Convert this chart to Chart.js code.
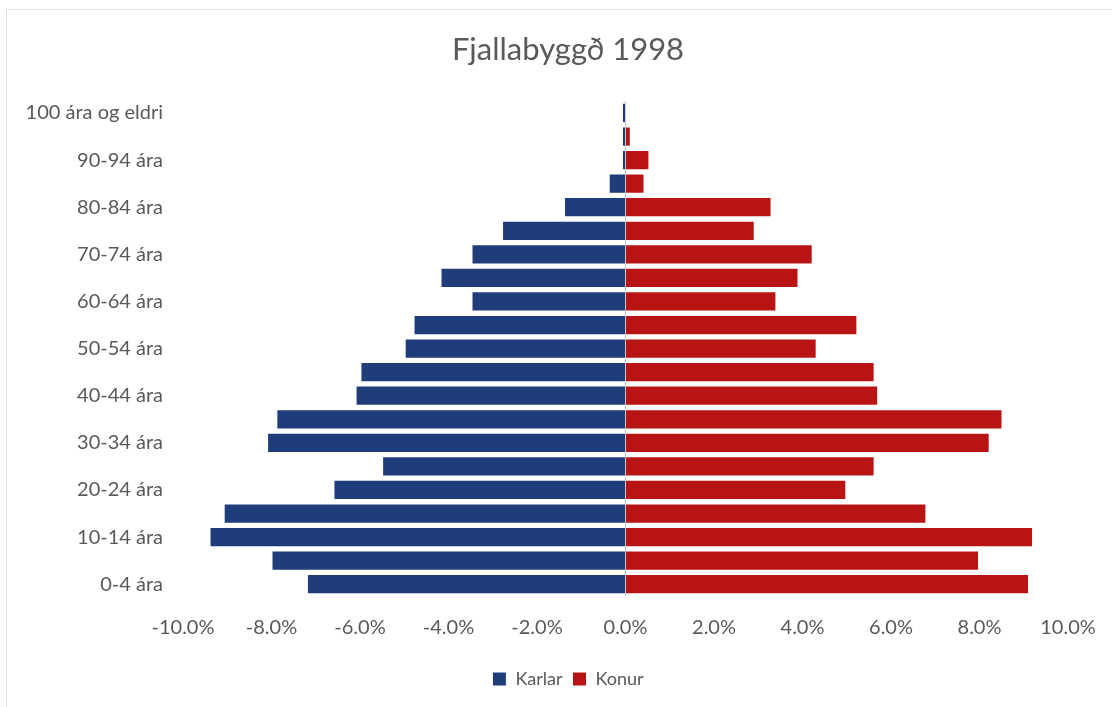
<!DOCTYPE html>
<html>
<head>
<meta charset="utf-8">
<script src="https://cdn.jsdelivr.net/npm/chart.js@4"></script>
<style>
    html, body { margin: 0; padding: 0; background: #fff; }
    #wrap { position: relative; width: 1112px; height: 707px; }
    #frame { position: absolute; left: 6px; top: 9px; width: 1120px; height: 720px; border: 1px solid #e2e2ea; }
    canvas { position: absolute; left: 0; top: 0; }
</style>
</head>
<body>
<div id="wrap">
    <div id="frame"></div>
    <canvas id="chartPyramid" width="1112" height="707"></canvas>
</div>
<script>
// aldurshopar, efst til nedst
const aldur = ['100 ára og eldri', '95-99 ára', '90-94 ára', '85-89 ára', '80-84 ára', '75-79 ára',
    '70-74 ára', '65-69 ára', '60-64 ára', '55-59 ára', '50-54 ára', '45-49 ára', '40-44 ára',
    '35-39 ára', '30-34 ára', '25-29 ára', '20-24 ára', '15-19 ára', '10-14 ára', '5-9 ára', '0-4 ára'];

// hlutfall (%) - karlar neikvaedir
const karlar = [-0.08, -0.08, -0.08, -0.38, -1.39, -2.79, -3.48, -4.18, -3.48, -4.79, -4.99,
    -5.99, -6.10, -7.89, -8.10, -5.50, -6.60, -9.08, -9.40, -8.00, -7.20];
const konur = [0, 0.12, 0.54, 0.43, 3.30, 2.92, 4.23, 3.91, 3.41, 5.24, 4.32,
    5.63, 5.71, 8.52, 8.23, 5.63, 4.99, 6.80, 9.21, 7.99, 9.12];

const xTicks = [-10, -8, -6, -4, -2, 0, 2, 4, 6, 8, 10];

const fontName = 'Lato, "Open Sans", sans-serif';
const grayText = '#595959';

var myChart;

// titill og skyring midjud eins og i Excel (ekki yfir alla breiddina)
const centerBoxes = {
    id: 'centerBoxes',
    afterLayout(chart) {
        [chart.titleBlock, chart.legend].forEach(box => {
            if (!box) return;
            box.left = 68;
            box.right = 1068;
        });
    }
};

function createPyramid() {
    var ctx = document.getElementById('chartPyramid').getContext('2d');
    myChart = new Chart(ctx, {
        type: 'bar',
        data: {
            labels: aldur,
            datasets: [{
                label: 'Karlar',
                data: karlar,
                backgroundColor: '#1F3D7A',
                borderColor: '#ffffff',
                borderWidth: 1,
                barPercentage: 0.86,
                categoryPercentage: 1
            },
            {
                label: 'Konur',
                data: konur,
                backgroundColor: '#B81414',
                borderColor: '#ffffff',
                borderWidth: 1,
                barPercentage: 0.86,
                categoryPercentage: 1
            }]
        },
        options: {
            indexAxis: 'y',
            responsive: false,
            animation: false,
            layout: { padding: { left: 10, right: 44, top: 0, bottom: 9 } },
            scales: {
                x: {
                    stacked: true,
                    min: -10,
                    max: 10,
                    afterBuildTicks: (axis) => { axis.ticks = xTicks.map(v => ({ value: v })); },
                    // ekki lata sidasta merkid threngja teiknisvaedid
                    afterFit: (axis) => { axis.paddingRight = 0; axis.paddingLeft = 0; },
                    ticks: {
                        color: grayText,
                        font: { family: fontName, size: 20 },
                        padding: 20,
                        maxRotation: 0,
                        callback: (v) => v.toFixed(1) + '%'
                    },
                    grid: {
                        drawTicks: false,
                        color: (c) => (c.tick && c.tick.value === 0) ? '#c8c8c8' : 'rgba(0,0,0,0)'
                    },
                    border: { display: false }
                },
                y: {
                    stacked: true,
                    afterFit: (axis) => { axis.width = 173; },
                    ticks: {
                        autoSkip: false,
                        color: grayText,
                        font: { family: fontName, size: 20 },
                        padding: 20,
                        callback: function (val, i) {
                            return i % 2 === 0 ? this.getLabelForValue(val) : '';
                        }
                    },
                    grid: { display: false, drawTicks: false },
                    border: { display: false }
                }
            },
            plugins: {
                title: {
                    display: true,
                    text: 'Fjallabyggð 1998',
                    color: grayText,
                    font: { family: fontName, size: 31, weight: 'normal' },
                    padding: { top: 31, bottom: 33 }
                },
                legend: {
                    position: 'bottom',
                    labels: {
                        color: grayText,
                        font: { family: fontName, size: 18 },
                        boxWidth: 14,
                        boxHeight: 14,
                        padding: 10
                    }
                },
                tooltip: { enabled: false }
            }
        },
        plugins: [centerBoxes]
    });
}

document.addEventListener('DOMContentLoaded', () => {
    createPyramid();
});
</script>
</body>
</html>
